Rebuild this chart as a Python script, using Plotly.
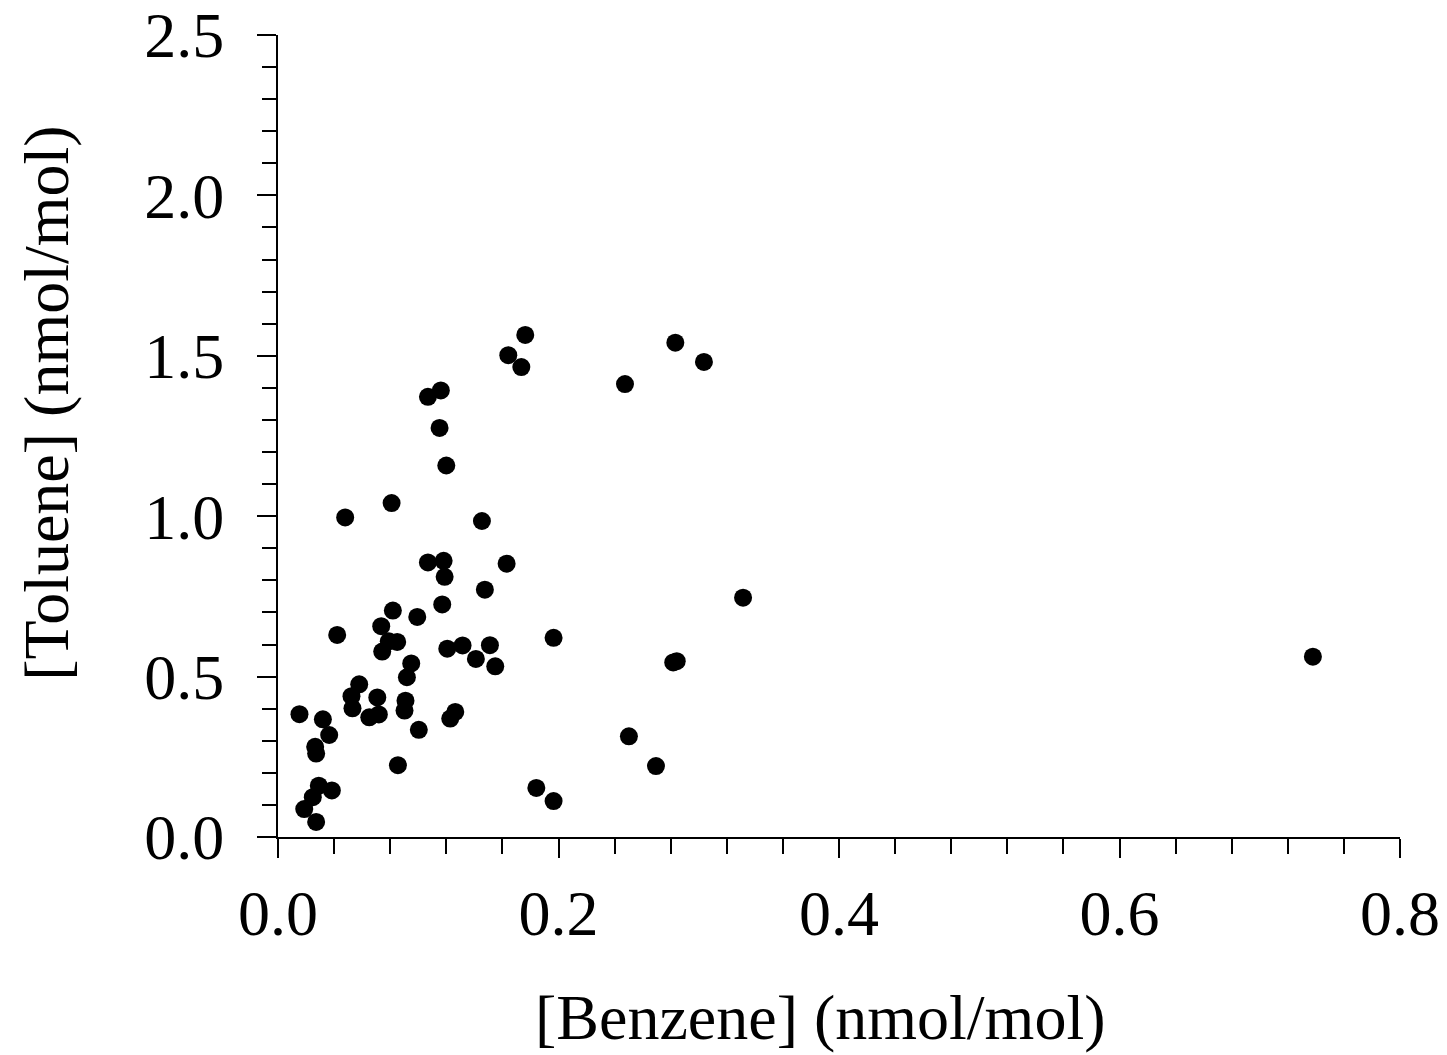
import plotly.graph_objects as go

benzene = [0.0479, 0.0810, 0.1454, 0.1069, 0.1181, 0.1188, 0.1630, 0.1475, 0.1171, 0.0819,
           0.0993, 0.0736, 0.0422, 0.0790, 0.0850, 0.0743, 0.1207, 0.1316, 0.1511, 0.1411,
           0.1549, 0.1965, 0.0950, 0.0919, 0.0579, 0.0524, 0.0531, 0.0708, 0.0651, 0.0719,
           0.0909, 0.0902, 0.1264, 0.1228, 0.0153, 0.0320, 0.0365, 0.1004, 0.0265, 0.0272,
           0.0855, 0.0291, 0.0384, 0.0248, 0.0187, 0.0272, 0.1842, 0.1965, 0.1763, 0.1642,
           0.1735, 0.1161, 0.1069, 0.1152, 0.1200, 0.2833, 0.3037, 0.2474, 0.3316, 0.2818,
           0.2843, 0.2502, 0.2695, 0.7379]
toluene = [0.996, 1.041, 0.985, 0.856, 0.861, 0.811, 0.852, 0.771, 0.725, 0.706,
           0.686, 0.657, 0.630, 0.610, 0.608, 0.578, 0.587, 0.597, 0.598, 0.555,
           0.532, 0.621, 0.541, 0.498, 0.476, 0.439, 0.401, 0.435, 0.373, 0.382,
           0.425, 0.394, 0.390, 0.369, 0.383, 0.367, 0.318, 0.334, 0.281, 0.260,
           0.224, 0.160, 0.145, 0.124, 0.087, 0.047, 0.153, 0.112, 1.565, 1.502,
           1.465, 1.392, 1.372, 1.275, 1.158, 1.541, 1.481, 1.412, 0.746, 0.544,
           0.548, 0.314, 0.221, 0.562]

x_title = "[Benzene] (nmol/mol)"
y_title = "[Toluene] (nmol/mol)"

FONT = "Liberation Serif, Times New Roman, serif"
W, H = 1447, 1055
L, R, T, B = 278, 47, 35, 217.5
pw, ph = W - L - R, H - T - B

fig = go.Figure()
fig.add_trace(go.Scatter(
    x=benzene, y=toluene, mode="markers",
    marker=dict(size=18, color="black", line=dict(width=0)),
    showlegend=False,
))

axis_common = dict(
    showgrid=False, zeroline=False, showline=True, linecolor="black", linewidth=2,
    ticks="outside", ticklen=19, tickwidth=2, tickcolor="black",
    tickfont=dict(family=FONT, size=64, color="black"),
)

fig.update_xaxes(range=[0, 0.8], tickvals=[0, 0.2, 0.4, 0.6, 0.8],
                 ticktext=["0.0", "0.2", "0.4", "0.6", "0.8"],
                 minor=dict(dtick=0.04, tick0=0, ticks="outside", ticklen=15,
                            tickwidth=2, tickcolor="black", showgrid=False),
                 ticklabelstandoff=0, **axis_common)
fig.update_yaxes(range=[0, 2.5], tickvals=[0, 0.5, 1.0, 1.5, 2.0, 2.5],
                 ticktext=["0.0", "0.5", "1.0", "1.5", "2.0", "2.5"],
                 minor=dict(dtick=0.1, tick0=0, ticks="outside", ticklen=14,
                            tickwidth=2, tickcolor="black", showgrid=False),
                 ticklabelstandoff=20, **axis_common)

fig.add_annotation(text=x_title, xref="paper", yref="paper",
                   x=(820 - L) / pw, y=(H - B - 1018) / ph,
                   xanchor="center", yanchor="middle", showarrow=False,
                   font=dict(family=FONT, size=64, color="black"))
fig.add_annotation(text=y_title, xref="paper", yref="paper",
                   x=(47 - L) / pw, y=(H - B - 404) / ph, textangle=-90,
                   xanchor="center", yanchor="middle", showarrow=False,
                   font=dict(family=FONT, size=64, color="black"))

fig.update_layout(
    width=W, height=H,
    margin=dict(l=L, r=R, t=T, b=B, autoexpand=False),
    paper_bgcolor="white", plot_bgcolor="white",
)

fig.write_html("out.html", config={"displayModeBar": False},
               post_script="document.body.style.margin='0';document.body.style.overflow='hidden';")
